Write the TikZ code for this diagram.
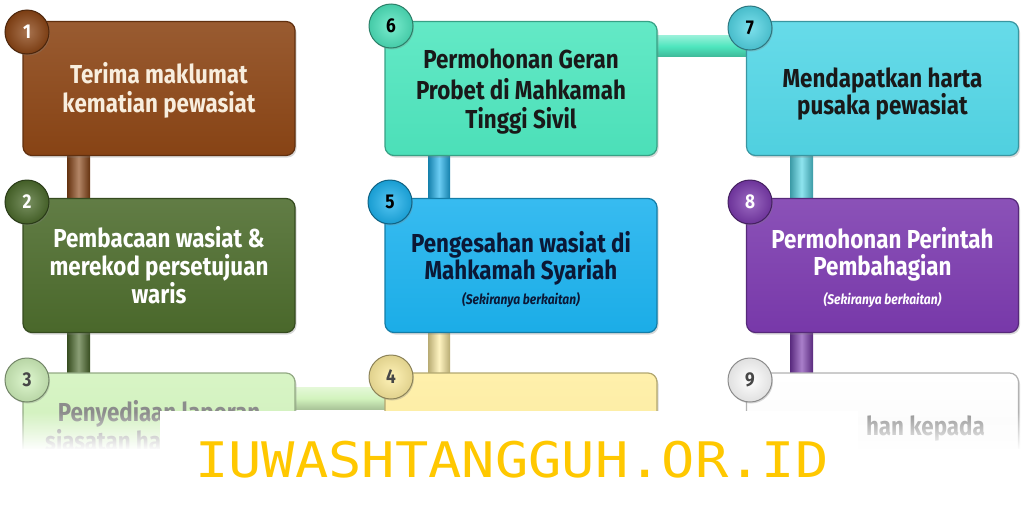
\documentclass[tikz,border=0pt]{standalone}
\usepackage{fontspec}
\setmainfont{Fira Sans}[FakeStretch=0.86]
\newfontfamily\wmfont{DejaVu Sans Mono}[FakeStretch=1.13]
\usetikzlibrary{shadows,fadings,backgrounds,calc}
\tikzfading[name=fadedown, top color=transparent!100, bottom color=transparent!0]
\definecolor{c1}{HTML}{8B4515}
\definecolor{c2}{HTML}{4C6B2C}
\definecolor{c3}{HTML}{D2F3BD}
\definecolor{c4}{HTML}{FFEEA0}
\definecolor{c5}{HTML}{1CB2EE}
\definecolor{c6}{HTML}{4EE6BE}
\definecolor{c7}{HTML}{52D6E6}
\definecolor{c8}{HTML}{7B3AAE}
\definecolor{c9}{HTML}{FFFFFF}
\definecolor{wmcol}{HTML}{FFC800}
\tikzset{
  stepbox/.style={rounded corners=9pt, minimum width=272pt, minimum height=134pt,
    draw=#1!70!black, line width=1.2pt, top color=#1!88!white, bottom color=#1!97!black,
    drop shadow={opacity=0.3, shadow xshift=1.5pt, shadow yshift=-2pt}, inner sep=0pt},
  numball/.style={circle, minimum size=44pt, inner sep=0pt, shading=radial,
    inner color=#1!75!white, outer color=#1!88!black,
    draw=#1!55!black, line width=1pt, font=\fontsize{20}{20}\selectfont\bfseries,
    drop shadow={opacity=0.3, shadow xshift=1pt, shadow yshift=-1.5pt}},
  vbar/.style={left color=#1!72!black, right color=#1!72!black, middle color=#1!65!white},
  hbar/.style={top color=#1!60!white, bottom color=#1!80!black, middle color=#1},
  txt/.style={anchor=base, inner sep=0pt, font=\fontsize{26}{29}\selectfont\bfseries},
  small/.style={anchor=base, inner sep=0pt, font=\fontsize{14}{16}\selectfont\bfseries\itshape},
  wm/.style={inner sep=0pt, text=wmcol, font=\wmfont\fontsize{49}{49}\selectfont}
}
\begin{document}
\begin{tikzpicture}[x=1pt,y=-1pt]
\useasboundingbox (0,0) rectangle (1024,517);
% boxes
\node[stepbox=c1] (b1) at (159,88.5) {};
\node[stepbox=c2] (b2) at (159,265.5) {};
\node[stepbox=c3] (b3) at (159,440) {};
\node[stepbox=c6] (b6) at (521,88.5) {};
\node[stepbox=c5] (b5) at (521,265.5) {};
\node[stepbox=c4] (b4) at (521,440) {};
\node[stepbox=c7] (b7) at (882.5,88.5) {};
\node[stepbox=c8] (b8) at (882.5,265.5) {};
\node[stepbox=c9] (b9) at (882.5,440) {};
% connectors
\begin{scope}[on background layer]
\fill[vbar=c1] ([xshift=-92pt,yshift=4pt]b1.south) rectangle ([xshift=-69pt,yshift=-4pt]b2.north);
\fill[vbar=c2] ([xshift=-92pt,yshift=4pt]b2.south) rectangle ([xshift=-69pt,yshift=-4pt]b3.north);
\fill[vbar=c5] ([xshift=-93pt,yshift=4pt]b6.south) rectangle ([xshift=-71pt,yshift=-4pt]b5.north);
\fill[vbar=c4] ([xshift=-93pt,yshift=4pt]b5.south) rectangle ([xshift=-71pt,yshift=-4pt]b4.north);
\fill[vbar=c7] ([xshift=-92.5pt,yshift=4pt]b7.south) rectangle ([xshift=-69.5pt,yshift=-4pt]b8.north);
\fill[vbar=c8] ([xshift=-92.5pt,yshift=4pt]b8.south) rectangle ([xshift=-69.5pt,yshift=-4pt]b9.north);
\fill[hbar=c6] ([xshift=-4pt,yshift=-15pt]b6.north east) rectangle ([xshift=4pt,yshift=-36pt]b7.north west);
\fill[hbar=c3] ([xshift=-4pt,yshift=-15pt]b3.north east) rectangle ([xshift=4pt,yshift=-37pt]b4.north west);
\end{scope}
% number balls
\node[numball=c1, text=white] (n1) at (27,32) {1};
\node[numball=c2, text=white] (n2) at (27,202) {2};
\node[numball=c3, text=black!72] (n3) at (27,380) {3};
\node[numball=c6, text=black] (n6) at (391,26) {6};
\node[numball=c5, text=black] (n5) at (390,202) {5};
\node[numball=c4, text=black!72] (n4) at (391,377) {4};
\node[numball=c7, text=black] (n7) at (750,28) {7};
\node[numball=c8, text=white] (n8) at (750,202) {8};
\node[numball=c9, text=black!72] (n9) at (750,380) {9};
% texts
\node[txt, text={rgb,255:red,248;green,238;blue,222}] (t1a) at (159,83) {Terima maklumat};
\node[txt, text={rgb,255:red,248;green,238;blue,222}] (t1b) at (159,112) {kematian pewasiat};
\node[txt, text=white] (t2a) at (159,247) {Pembacaan wasiat \&};
\node[txt, text=white] (t2b) at (159,275) {merekod persetujuan};
\node[txt, text=white] (t2c) at (159,303) {waris};
\node[txt, text=black!90] (t6a) at (521,68) {Permohonan Geran};
\node[txt, text=black!90] (t6b) at (521,99) {Probet di Mahkamah};
\node[txt, text=black!90] (t6c) at (521,128) {Tinggi Sivil};
\node[txt, text={rgb,255:red,11;green,24;blue,54}] (t5a) at (521,252) {Pengesahan wasiat di};
\node[txt, text={rgb,255:red,11;green,24;blue,54}] (t5b) at (521,279) {Mahkamah Syariah};
\node[small, text={rgb,255:red,11;green,24;blue,54}] (t5c) at (521,304) {(Sekiranya berkaitan)};
\node[txt, text=black!90] (t7a) at (882.5,87) {Mendapatkan harta};
\node[txt, text=black!90] (t7b) at (882.5,114) {pusaka pewasiat};
\node[txt, text=white] (t8a) at (882.5,248) {Permohonan Perintah};
\node[txt, text=white] (t8b) at (882.5,275) {Pembahagian};
\node[small, text=white] (t8c) at (882.5,304) {(Sekiranya berkaitan)};
\node[txt, text=black!45, text depth=0pt] (t3a) at (159,421) {Penyediaan laporan};
\node[txt, text=black!45, text height=14pt, anchor=base west] (t3b) at (45,450) {siasatan ha};
\node[txt, text=black!42, anchor=base east] (t9a) at (985,435) {han kepada};
% bottom fade
\fill[white, path fading=fadedown] (0,412) rectangle (1024,450);
\fill[white] (0,449) rectangle (1024,517);
% watermark
\fill[white] (160,411) rectangle (858,517);
\node[wm, anchor=base west] (wmark) at (195,477) {IUWASHTANGGUH.OR.ID};
\end{tikzpicture}
\end{document}
